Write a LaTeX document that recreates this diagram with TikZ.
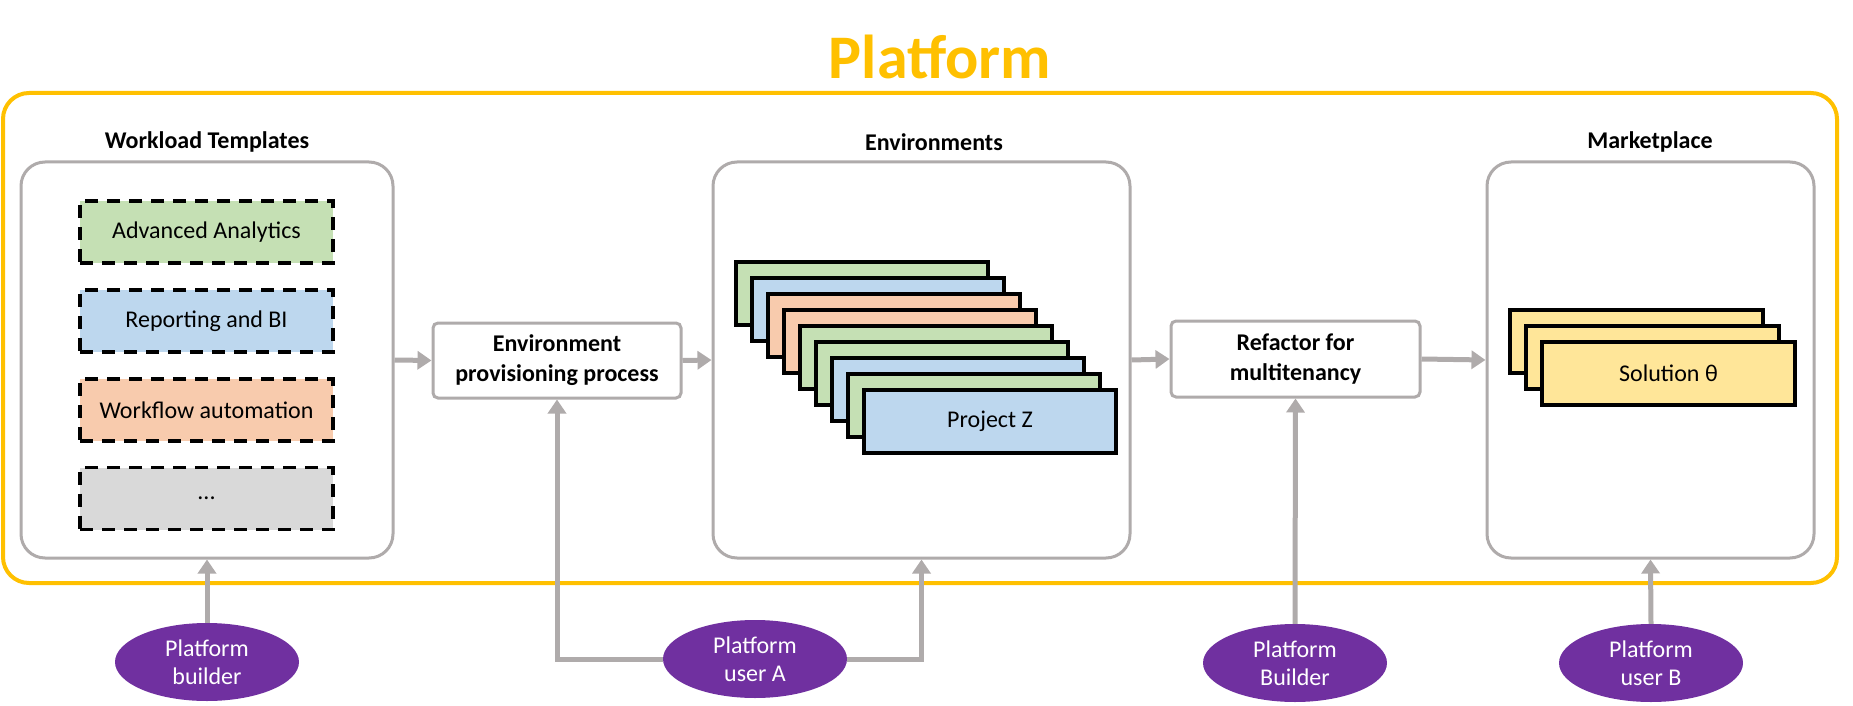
\documentclass[tikz,border=0pt]{standalone}
\usepackage{fontspec}
\setmainfont{Carlito}
\usetikzlibrary{arrows.meta,shapes.geometric}
\definecolor{plat}{HTML}{FFC000}
\definecolor{gline}{HTML}{AFABAB}
\definecolor{cgreen}{HTML}{C5E0B4}
\definecolor{cblue}{HTML}{BDD7EE}
\definecolor{corange}{HTML}{F8CBAD}
\definecolor{cgray}{HTML}{D9D9D9}
\definecolor{cyellow}{HTML}{FFE699}
\definecolor{purp}{HTML}{7030A0}
\begin{document}
\begin{tikzpicture}[x=1pt,y=-1pt,
  outerbox/.style={draw=plat, line width=4pt, rounded corners=26pt, inner sep=0pt},
  panel/.style={draw=gline, line width=3pt, rounded corners=24pt, fill=white, inner sep=0pt},
  procbox/.style={draw=gline, line width=3pt, rounded corners=5pt, fill=white, align=center, inner sep=0pt,
     font=\fontsize{24}{30}\selectfont\bfseries},
  tmpl/.style={draw=black, line width=3.5pt, dash pattern=on 13pt off 9pt, minimum width=253pt, minimum height=62pt,
     inner sep=0pt, font=\fontsize{24}{28}\selectfont},
  card/.style={draw=black, line width=3.5pt, minimum width=252pt, minimum height=63pt, inner sep=0pt,
     font=\fontsize{24}{28}\selectfont},
  paneltitle/.style={font=\fontsize{24}{28}\selectfont\bfseries, inner sep=0pt},
  user/.style={ellipse, fill=purp, minimum width=184pt, minimum height=78pt, inner sep=0pt, align=center,
     text=white, font=\fontsize{24}{28}\selectfont},
  arr/.style={draw=gline, line width=5pt, -{Triangle[length=14pt,width=18pt]}}
]
\useasboundingbox (0,0) rectangle (1853,706);

% title and platform frame
\node[font=\fontsize{62}{70}\selectfont\bfseries, text=plat, inner sep=0pt] (title) at (940,57) {Platform};
\node[outerbox, minimum width=1834pt, minimum height=490pt] (platform) at (920,338) {};

% panels
\node[panel, minimum width=372pt, minimum height=396pt] (wt) at (207,360) {};
\node[panel, minimum width=417pt, minimum height=396pt] (env) at (921.5,360) {};
\node[panel, minimum width=327pt, minimum height=396pt] (mk) at (1650.5,360) {};

\node[paneltitle] (wtl) at (207,142) {Workload Templates};
\node[paneltitle] (envl) at (934,142) {Environments};
\node[paneltitle] (mkl) at (1650,142) {Marketplace};

% templates
\node[tmpl, fill=cgreen] (t1) at (206.5,232) {Advanced Analytics};
\node[tmpl, fill=cblue] (t2) at (206.5,321) {Reporting and BI};
\node[tmpl, fill=corange] (t3) at (206.5,410) {Workflow automation};
\node[tmpl, fill=cgray] (t4) at (206.5,498.5) {...};

% process boxes
\node[procbox, minimum width=248pt, minimum height=75pt] (prov) at (557,360.5) {Environment\\provisioning process};
\node[procbox, minimum width=249pt, minimum height=76pt] (ref) at (1295.5,359) {Refactor for\\multitenancy};

% environment cards
\node[card, fill=cgreen] (c0) at (862,293.5) {};
\node[card, fill=cblue] (c1) at (878,309.5) {};
\node[card, fill=corange] (c2) at (894,325.5) {};
\node[card, fill=corange] (c3) at (910,341.5) {};
\node[card, fill=cgreen] (c4) at (926,357.5) {};
\node[card, fill=cgreen] (c5) at (942,373.5) {};
\node[card, fill=cblue] (c6) at (958,389.5) {};
\node[card, fill=cgreen] (c7) at (974,405.5) {};
\node[card, fill=cblue] (c8) at (990,421.5) {Project Z};

% marketplace cards
\node[card, fill=cyellow, minimum width=253pt] (s0) at (1636.5,341.5) {};
\node[card, fill=cyellow, minimum width=253pt] (s1) at (1652.5,357.5) {};
\node[card, fill=cyellow, minimum width=253pt] (s2) at (1668.5,373.5) {Solution θ};

% users
\node[user] (b1) at (207,662) {Platform\\builder};
\node[user] (ua) at (755,659) {Platform\\user A};
\node[user] (b2) at (1295,663) {Platform\\Builder};
\node[user] (ub) at (1651,663) {Platform\\user B};

% flow arrows
\draw[arr] (wt.east) -- (prov.west);
\draw[arr] (prov.east) -- (env.west);
\draw[arr] (env.east) -- (ref.west);
\draw[arr] (ref.east) -- (mk.west);

% user arrows
\draw[arr] (b1.north) -- (wt.south);
\draw[arr] (ua.west) -| (prov.south);
\draw[arr] (ua.east) -| (env.south);
\draw[arr] (b2.north) -- (ref.south);
\draw[arr] (ub.north) -- (mk.south);
\end{tikzpicture}
\end{document}
